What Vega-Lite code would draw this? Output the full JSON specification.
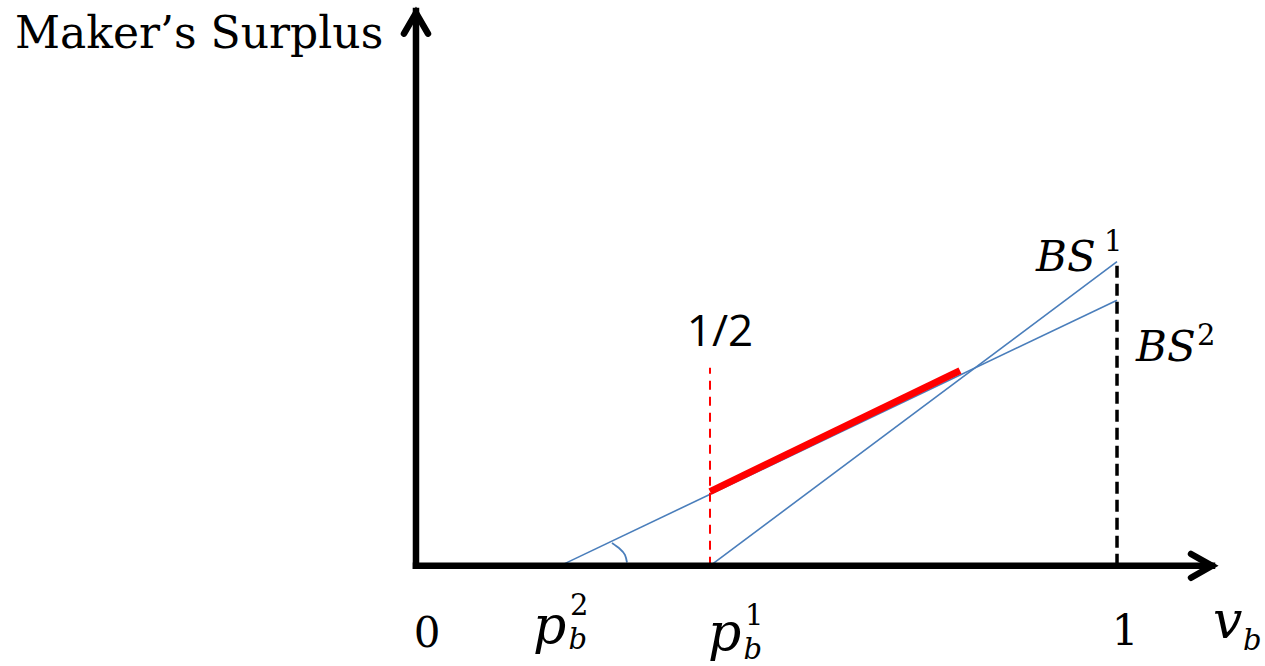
{
  "$schema": "https://vega.github.io/schema/vega-lite/v6.json",
  "width": 1265,
  "height": 666,
  "autosize": {"type": "fit", "contains": "padding"},
  "padding": 0,
  "background": "white",
  "config": {"view": {"stroke": null}},
  "datasets": {
    "axes": [
      {"x": 0, "y": 0, "x2": 0, "y2": 1.824},
      {"x": 0, "y": 0, "x2": 1.1355, "y2": 0}
    ],
    "arrows": [
      {"arrow": "y", "k": 1, "x": -0.0171, "y": 1.7492},
      {"arrow": "y", "k": 2, "x": 0, "y": 1.8176},
      {"arrow": "y", "k": 3, "x": 0.0171, "y": 1.7492},
      {"arrow": "x", "k": 1, "x": 1.1056, "y": 0.0391},
      {"arrow": "x", "k": 2, "x": 1.1355, "y": 0},
      {"arrow": "x", "k": 3, "x": 1.1056, "y": -0.0391}
    ],
    "surplus": [
      {"line": "BS1", "x": 0.4194, "y": 0, "x2": 1, "y2": 1},
      {"line": "BS2", "x": 0.2054, "y": 0, "x2": 1, "y2": 0.873}
    ],
    "angle": [
      {"k": 1, "x": 0.2796, "y": 0.0749},
      {"k": 2, "x": 0.291, "y": 0.0554},
      {"k": 3, "x": 0.2981, "y": 0.0358},
      {"k": 4, "x": 0.301, "y": 0.011}
    ],
    "best": [
      {"x": 0.4194, "y": 0.2443, "x2": 0.776, "y2": 0.6417}
    ],
    "half": [
      {"x": 0.4194, "y": 0, "x2": 0.4194, "y2": 0.6515}
    ],
    "one": [
      {"x": 1, "y": 0, "x2": 1, "y2": 1.0033}
    ],
    "title": [
      {"x": -0.572, "y": 1.7036, "label": "Maker’s Surplus"}
    ],
    "numbers": [
      {"x": 0.0157, "y": -0.2671, "label": "0"},
      {"x": 1.0114, "y": -0.2606, "label": "1"}
    ],
    "halfLabel": [
      {"x": 0.4337, "y": 0.7231, "label": "1/2"}
    ],
    "mathBig": [
      {"x": 0.1669, "y": -0.2541, "label": "p"},
      {"x": 0.4165, "y": -0.2769, "label": "p"},
      {"x": 1.1369, "y": -0.2378, "label": "v"}
    ],
    "mathMid": [
      {"x": 0.8845, "y": 0.9707, "label": "BS"},
      {"x": 1.0271, "y": 0.6743, "label": "BS"}
    ],
    "subs": [
      {"x": 0.2175, "y": -0.2737, "label": "b"},
      {"x": 0.4672, "y": -0.3062, "label": "b"},
      {"x": 1.1797, "y": -0.2769, "label": "b"}
    ],
    "sups": [
      {"x": 0.2197, "y": -0.1629, "label": "2"},
      {"x": 0.4693, "y": -0.1955, "label": "1"},
      {"x": 0.9815, "y": 1.0358, "label": "1"},
      {"x": 1.1141, "y": 0.7264, "label": "2"}
    ]
  },
  "encoding": {
    "x": {"field": "x", "type": "quantitative", "axis": null,
      "scale": {"domain": [-0.5934, 1.2111], "nice": false, "zero": false}},
    "y": {"field": "y", "type": "quantitative", "axis": null,
      "scale": {"domain": [-0.3127, 1.8567], "nice": false, "zero": false}}
  },
  "layer": [
    {
      "data": {"name": "surplus"},
      "mark": {"type": "rule", "color": "#4a7ebb", "strokeWidth": 1.6},
      "encoding": {"x2": {"field": "x2"}, "y2": {"field": "y2"}}
    },
    {
      "data": {"name": "angle"},
      "mark": {"type": "line", "color": "#4a7ebb", "strokeWidth": 1.8, "interpolate": "natural"},
      "encoding": {"order": {"field": "k"}}
    },
    {
      "data": {"name": "half"},
      "mark": {"type": "rule", "color": "#ff0000", "strokeWidth": 2, "strokeDash": [9, 7]},
      "encoding": {"x2": {"field": "x2"}, "y2": {"field": "y2"}}
    },
    {
      "data": {"name": "one"},
      "mark": {"type": "rule", "color": "#000000", "strokeWidth": 3.5, "strokeDash": [12, 6]},
      "encoding": {"x2": {"field": "x2"}, "y2": {"field": "y2"}}
    },
    {
      "data": {"name": "best"},
      "mark": {"type": "rule", "color": "#ff0000", "strokeWidth": 7, "strokeCap": "butt"},
      "encoding": {"x2": {"field": "x2"}, "y2": {"field": "y2"}}
    },
    {
      "data": {"name": "axes"},
      "mark": {"type": "rule", "color": "#000000", "strokeWidth": 6.5, "strokeCap": "square"},
      "encoding": {"x2": {"field": "x2"}, "y2": {"field": "y2"}}
    },
    {
      "data": {"name": "arrows"},
      "mark": {"type": "line", "color": "#000000", "strokeWidth": 6.5, "strokeCap": "round", "strokeJoin": "miter"},
      "encoding": {"detail": {"field": "arrow"}, "order": {"field": "k"}}
    },
    {
      "data": {"name": "title"},
      "mark": {"type": "text", "font": "DejaVu Serif", "fontSize": 44, "align": "left", "baseline": "alphabetic", "color": "#000000"},
      "encoding": {"text": {"field": "label"}}
    },
    {
      "data": {"name": "numbers"},
      "mark": {"type": "text", "font": "DejaVu Serif", "fontSize": 42, "align": "center", "baseline": "alphabetic", "color": "#000000"},
      "encoding": {"text": {"field": "label"}}
    },
    {
      "data": {"name": "halfLabel"},
      "mark": {"type": "text", "font": "Open Sans", "fontSize": 44, "align": "center", "baseline": "alphabetic", "color": "#000000"},
      "encoding": {"text": {"field": "label"}}
    },
    {
      "data": {"name": "mathBig"},
      "mark": {"type": "text", "font": "DejaVu Serif", "fontStyle": "italic", "fontSize": 52, "align": "left", "baseline": "alphabetic", "color": "#000000"},
      "encoding": {"text": {"field": "label"}}
    },
    {
      "data": {"name": "mathMid"},
      "mark": {"type": "text", "font": "DejaVu Serif", "fontStyle": "italic", "fontSize": 42, "align": "left", "baseline": "alphabetic", "color": "#000000"},
      "encoding": {"text": {"field": "label"}}
    },
    {
      "data": {"name": "subs"},
      "mark": {"type": "text", "font": "DejaVu Serif", "fontStyle": "italic", "fontSize": 29, "align": "left", "baseline": "alphabetic", "color": "#000000"},
      "encoding": {"text": {"field": "label"}}
    },
    {
      "data": {"name": "sups"},
      "mark": {"type": "text", "font": "DejaVu Serif", "fontSize": 29, "align": "left", "baseline": "alphabetic", "color": "#000000"},
      "encoding": {"text": {"field": "label"}}
    }
  ]
}
